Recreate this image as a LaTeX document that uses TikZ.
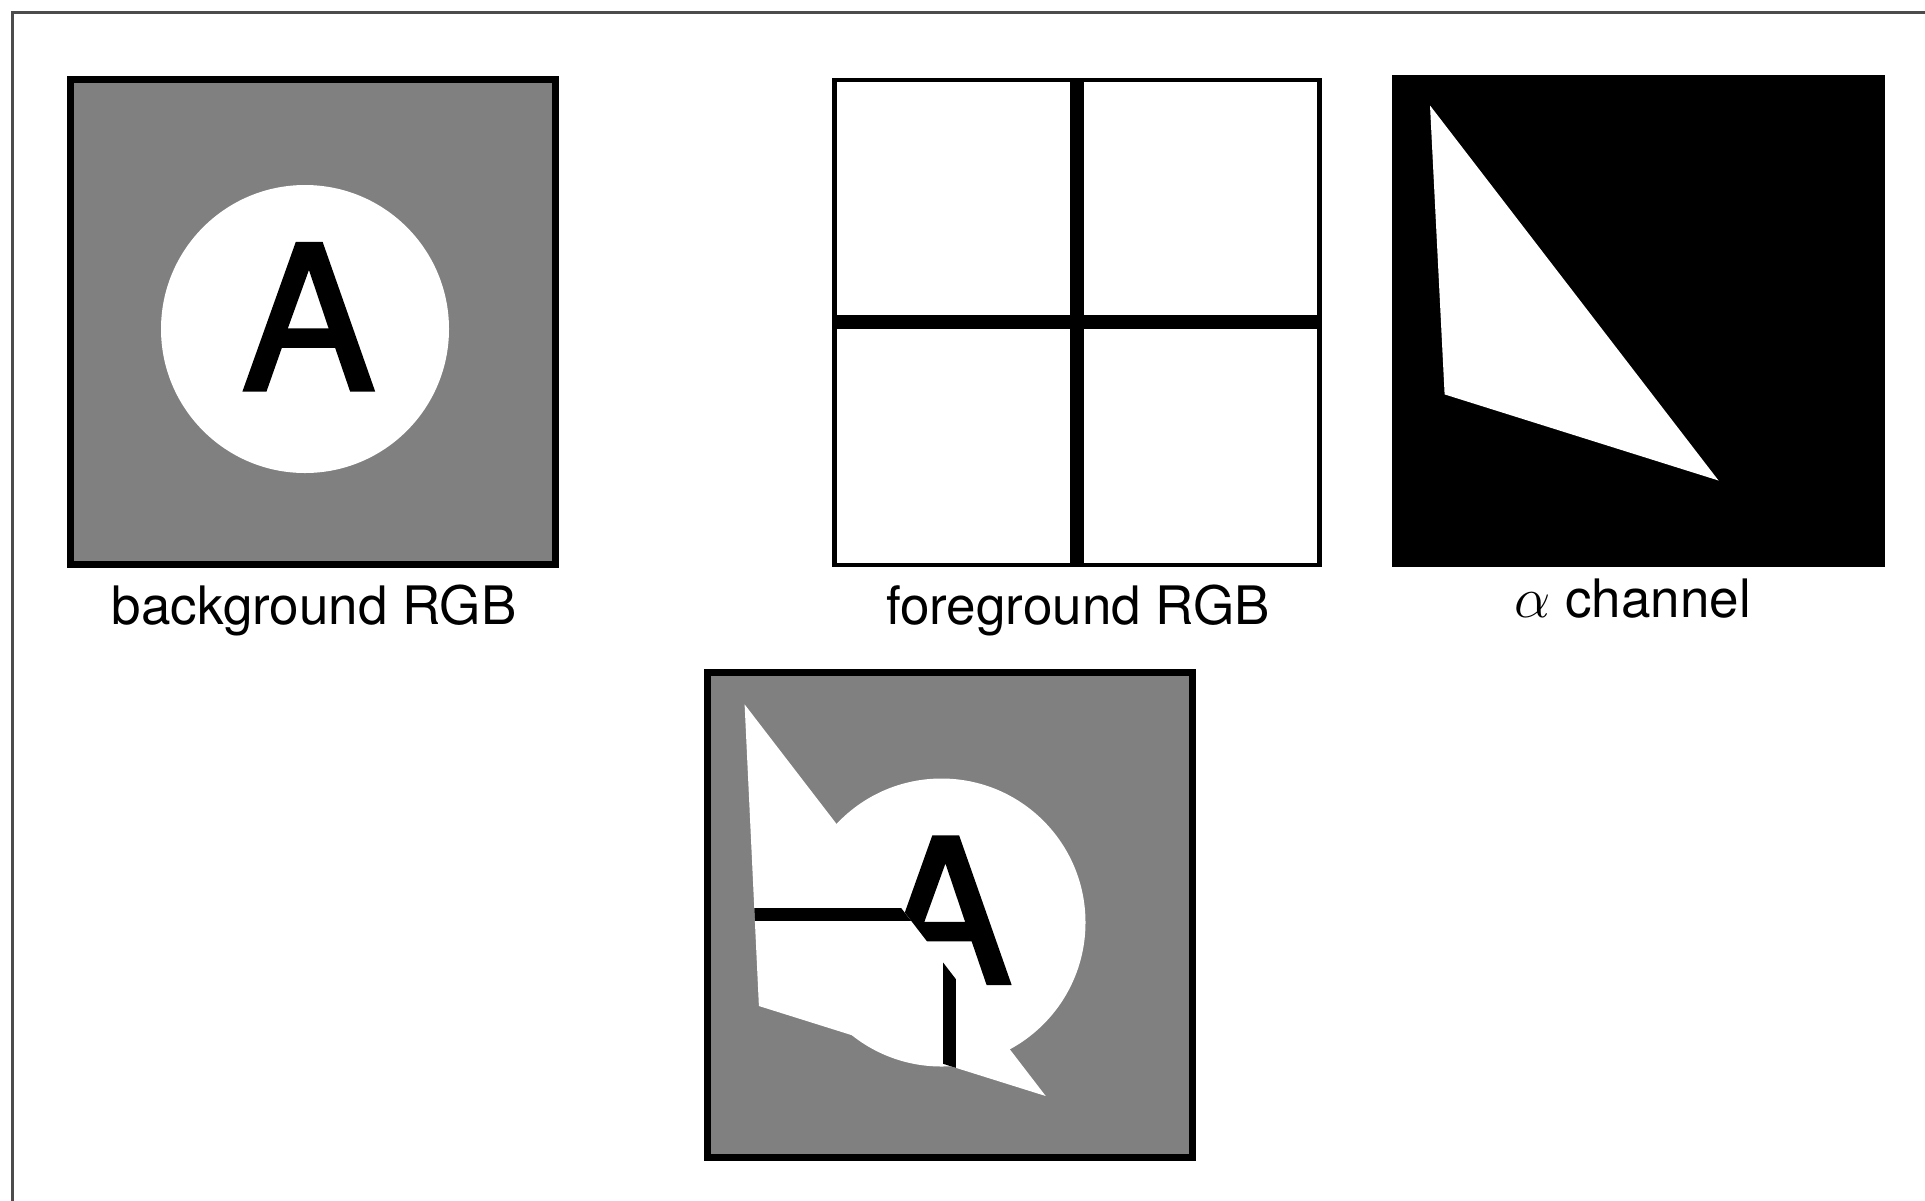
\documentclass[tikz,border=0pt]{standalone}
\usepackage{fontspec}
\setmainfont{TeX Gyre Heros}
\newfontfamily\heavyfont[FakeBold=2]{TeX Gyre Heros}
\definecolor{bggray}{gray}{0.5}
\begin{document}
\begin{tikzpicture}[x=0.25pt, y=-0.25pt, every node/.style={font=\fontsize{13.25}{16}\selectfont}]
\tikzset{
  panel/.style={draw=black, line width=1.75pt},
  thinpanel/.style={draw=black, line width=1.15pt},
  bar/.style={line width=3.4pt},
  lbl/.style={anchor=base, inner sep=0},
  letter/.style={font=\heavyfont\fontsize{50}{50}\selectfont, inner sep=0, anchor=base}
}
\useasboundingbox (0,0) rectangle (1925,1200);
\draw[line width=0.75pt, black!70] (12,12) rectangle (1960,1240);
% --- background RGB ---
\begin{scope}[shift={(70.5,79)}]
  \fill[bggray] (0,0) rectangle (485,485);
  \fill[white] (234.5,250) circle (144);
  \node[letter] (bgA) at (238,310.7) {A};
  \draw[panel] (0,0) rectangle (485,485);
  \node[lbl] (bglabel) at (243.5,545) {background RGB};
\end{scope}
% --- foreground RGB ---
\begin{scope}[shift={(834.5,80)}]
  \draw[thinpanel, fill=white] (0,0) rectangle (485,485);
  \draw[bar] (242.2,0) -- (242.2,485);
  \draw[bar] (0,241.7) -- (485,241.7);
  \node[lbl] (fglabel) at (243.5,544) {foreground RGB};
\end{scope}
% --- alpha channel ---
\begin{scope}[shift={(1396,79)}]
  \fill[black] (-4,-4) rectangle (489,488);
  \fill[white] (34,26.5) -- (48.6,315.4) -- (322.5,401.5) -- cycle;
  \node[lbl] (alabel) at (236.5,538) {$\alpha$ channel};
\end{scope}
% --- composite ---
\begin{scope}[shift={(707,672.5)}]
  \fill[bggray] (0,0) rectangle (485,485);
  \fill[white] (234.5,250) circle (144);
  \node[letter] (compA) at (238,310.7) {A};
  \fill[white] (37.6,31.9) -- (51.9,333.5) -- (338.7,423.5) -- cycle;
  \begin{scope}
    \clip (37.6,31.9) -- (51.9,333.5) -- (338.7,423.5) -- cycle;
    \draw[bar] (242.4,0) -- (242.4,485);
    \draw[bar] (0,242) -- (485,242);
  \end{scope}
  \draw[panel] (0,0) rectangle (485,485);
\end{scope}
\end{tikzpicture}
\end{document}
